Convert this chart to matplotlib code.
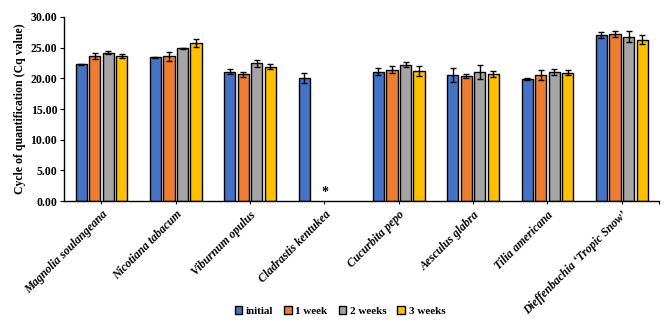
import numpy as np
import matplotlib
matplotlib.use("Agg")
from matplotlib import pyplot as plt

# data
species = ["Magnolia soulangeana", "Nicotiana tabacum", "Viburnum opulus",
           "Cladrastis kentukea", "Cucurbita pepo", "Aesculus glabra",
           "Tilia americana", "Dieffenbachia \u2018Tropic Snow\u2019"]
series = ["initial", "1 week", "2 weeks", "3 weeks"]

initial = [22.3, 23.45, 21.1, 20.1, 21.1, 20.55, 19.85, 27.05]
week1 = [23.6, 23.6, 20.7, np.nan, 21.4, 20.35, 20.6, 27.25]
week2 = [24.2, 24.9, 22.45, np.nan, 22.25, 21.05, 21.05, 26.8]
week3 = [23.6, 25.7, 21.9, np.nan, 21.2, 20.75, 20.9, 26.3]

err_initial = [0.1, 0.1, 0.35, 0.8, 0.55, 1.1, 0.15, 0.55]
err_week1 = [0.45, 0.7, 0.4, np.nan, 0.55, 0.3, 0.8, 0.5]
err_week2 = [0.25, 0.1, 0.6, np.nan, 0.35, 1.2, 0.5, 0.9]
err_week3 = [0.3, 0.65, 0.4, np.nan, 0.75, 0.5, 0.4, 0.7]

colors = ["#4472C4", "#ED7D31", "#A5A5A5", "#FFC000"]

plt.rcParams['font.family'] = ['Liberation Serif', 'DejaVu Serif']
plt.rcParams['font.weight'] = 'bold'

fig = plt.figure(figsize=(6.69, 3.26), dpi=100)
ax = fig.add_axes([0.096, 0.383, 0.889, 0.565])

x = np.arange(len(species))
allVals = [initial, week1, week2, week3]
allErr = [err_initial, err_week1, err_week2, err_week3]
pitch = 0.182
width = 0.15
for j, (vals, errs) in enumerate(zip(allVals, allErr)):
    pos = x + (j - 1.5) * pitch
    ax.bar(pos, vals, width, color=colors[j], edgecolor='black', linewidth=1.0,
           label=series[j], zorder=2)
    ax.errorbar(pos, vals, yerr=errs, fmt='none', ecolor='black', elinewidth=1.0,
                capsize=2, capthick=1.0, zorder=3)

# no data after initial for Cladrastis
ax.text(3, 0.3, "*", ha='center', va='bottom', fontsize=10)

ax.set_xlim(-0.5, len(species) - 0.5)
ax.set_ylim(0, 30)
ax.set_yticks(np.arange(0, 30.1, 5))
ax.set_yticklabels(["%.2f" % v for v in np.arange(0, 30.1, 5)], fontsize=8.5, fontweight='bold')
ax.set_xticks(x)
ax.set_xticklabels(species, rotation=45, ha='right', rotation_mode='anchor',
                   fontsize=8.5, fontweight='bold', fontstyle='italic')
ax.set_xticks([len(species) - 0.5], minor=True)
ax.tick_params(axis='x', which='both', length=2.5, width=0.8, pad=3)
ax.tick_params(axis='y', length=3, width=0.8, pad=2)
ax.set_ylabel("Cycle of quantification (Cq value)", fontsize=8.5, fontweight='bold', labelpad=3)

for s in ['top', 'right']:
    ax.spines[s].set_visible(False)
ax.spines['left'].set_linewidth(1.0)
ax.spines['bottom'].set_linewidth(1.0)

fig.legend(loc='center', bbox_to_anchor=(0.508, 0.046), ncol=4, frameon=False,
           fontsize=8, handlelength=0.7, handleheight=0.7, handletextpad=0.3,
           columnspacing=1.0)

plt.savefig("out.png", dpi=100)
